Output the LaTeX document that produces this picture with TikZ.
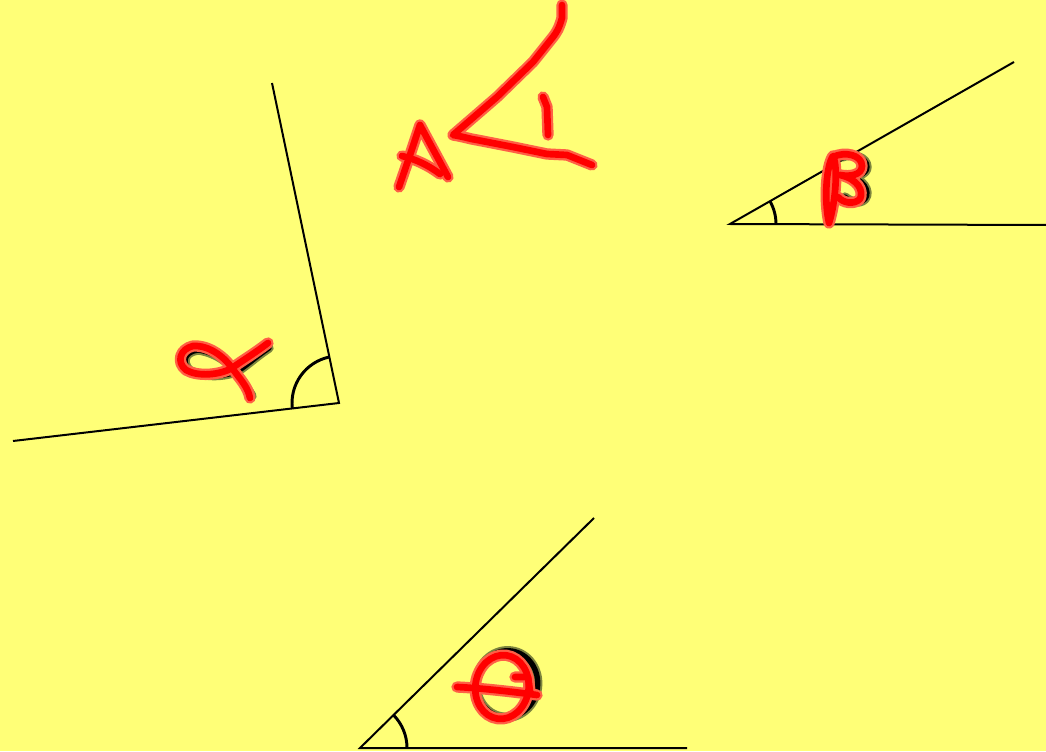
\documentclass[tikz,border=0pt]{standalone}
\definecolor{bgyellow}{RGB}{255,255,119}
\definecolor{ink}{RGB}{255,0,0}
\definecolor{halo}{RGB}{255,95,70}
\definecolor{olive}{RGB}{70,80,40}
\begin{document}
\begin{tikzpicture}[x=0.75pt,y=0.75pt,
  arm/.style={line width=1.5pt,black},
  anglearc/.style={line width=2.2pt,black},
  redhalo/.style={line width=8.5pt,halo,line cap=round,line join=round},
  redink/.style={line width=5pt,ink,line cap=round,line join=round},
  blackhalo/.style={line width=7pt,olive,opacity=0.7,line cap=round,line join=round},
  blackink/.style={line width=4pt,black,line cap=round,line join=round}]
\fill[bgyellow] (0,0) rectangle (1046,751);
\useasboundingbox (0,0) rectangle (1046,751);

% alpha angle
\coordinate (A0) at (339,348);
\coordinate (A1) at (272,668);
\coordinate (A2) at (13,310);
\coordinate (As) at (329.4,394.0);
\draw[arm] (A1) -- (A0) -- (A2);
\draw[anglearc] (As) arc[start angle=101.8,end angle=186.65,radius=35.25pt];

% beta angle
\coordinate (B0) at (730,527);
\coordinate (B1) at (1014,689);
\coordinate (B2) at (1046,526);
\coordinate (Bs) at (776,527);
\draw[arm] (B1) -- (B0) -- (B2);
\draw[anglearc] (Bs) arc[start angle=0,end angle=29.7,radius=34.5pt];

% theta angle
\coordinate (T0) at (360,3);
\coordinate (T1) at (594,233);
\coordinate (T2) at (687,3);
\coordinate (Ts) at (407,3);
\draw[arm] (T1) -- (T0) -- (T2);
\draw[anglearc] (Ts) arc[start angle=0,end angle=44.5,radius=35.25pt];

% black handwriting underneath
\begin{scope}[shift={(4,-3)}]
\foreach \s in {blackhalo,blackink}{
\draw[\s] (265,406) .. controls (250,396) and (240,386) .. (232,382)
  .. controls (215,376) and (195,378) .. (185,384)
  .. controls (178,392) and (180,402) .. (194,404)
  .. controls (210,402) and (225,392) .. (232,382)
  .. controls (238,374) and (243,366) .. (248,358);
}
\end{scope}
\begin{scope}[shift={(7,0)}]
\foreach \s in {blackhalo,blackink}{
\draw[\s] (835,594) .. controls (845,598) and (860,594) .. (860,584)
  .. controls (860,576) and (848,574) .. (840,576)
  .. controls (856,572) and (864,560) .. (858,552)
  .. controls (852,546) and (842,550) .. (838,554);
}
\end{scope}
\foreach \s in {blackhalo,blackink}{
\draw[\s,rotate around={-8:(507,67)}] (507,67) ellipse[x radius=23pt,y radius=25pt];
}

% red handwriting: A
\foreach \s in {redhalo,redink}{
\draw[\s] (399,564) -- (410,596) -- (420,626) -- (434,600) -- (448,574);
\draw[\s] (402,595) .. controls (415,592) and (428,586) .. (440,577);
% angle sign
\draw[\s] (562,746) -- (562,733) .. controls (559,722) and (556,718) .. (553,714)
  -- (533,689) -- (497,654) -- (453,616)
  .. controls (465,614) and (470,612) .. (477,611)
  -- (513,604) -- (547,597) -- (567,596) -- (592,586);
% 1
\draw[\s] (543,654) -- (547,644) -- (548,616);
% alpha
\draw[\s] (268,408) .. controls (255,398) and (242,390) .. (232,383)
  .. controls (220,376) and (198,374) .. (186,381)
  .. controls (176,389) and (180,402) .. (193,405)
  .. controls (210,406) and (225,393) .. (232,383)
  .. controls (240,372) and (248,364) .. (250,353);
% beta
\draw[\s] (829,528) .. controls (824,550) and (826,585) .. (833,595)
  .. controls (838,585) and (836,550) .. (829,528);
\draw[\s] (833,594) .. controls (845,600) and (862,596) .. (862,585)
  .. controls (862,576) and (850,574) .. (840,576)
  .. controls (858,572) and (864,560) .. (860,552)
  .. controls (854,546) and (843,548) .. (838,554);
% theta
\draw[\s,rotate around={-8:(502,64)}] (502,64) ellipse[x radius=20pt,y radius=24pt];
\draw[\s] (457,64) .. controls (480,63) and (515,59) .. (537,56);
\draw[\s] (515,74) -- (528,74) -- (530,60);
}
\end{tikzpicture}
\end{document}
